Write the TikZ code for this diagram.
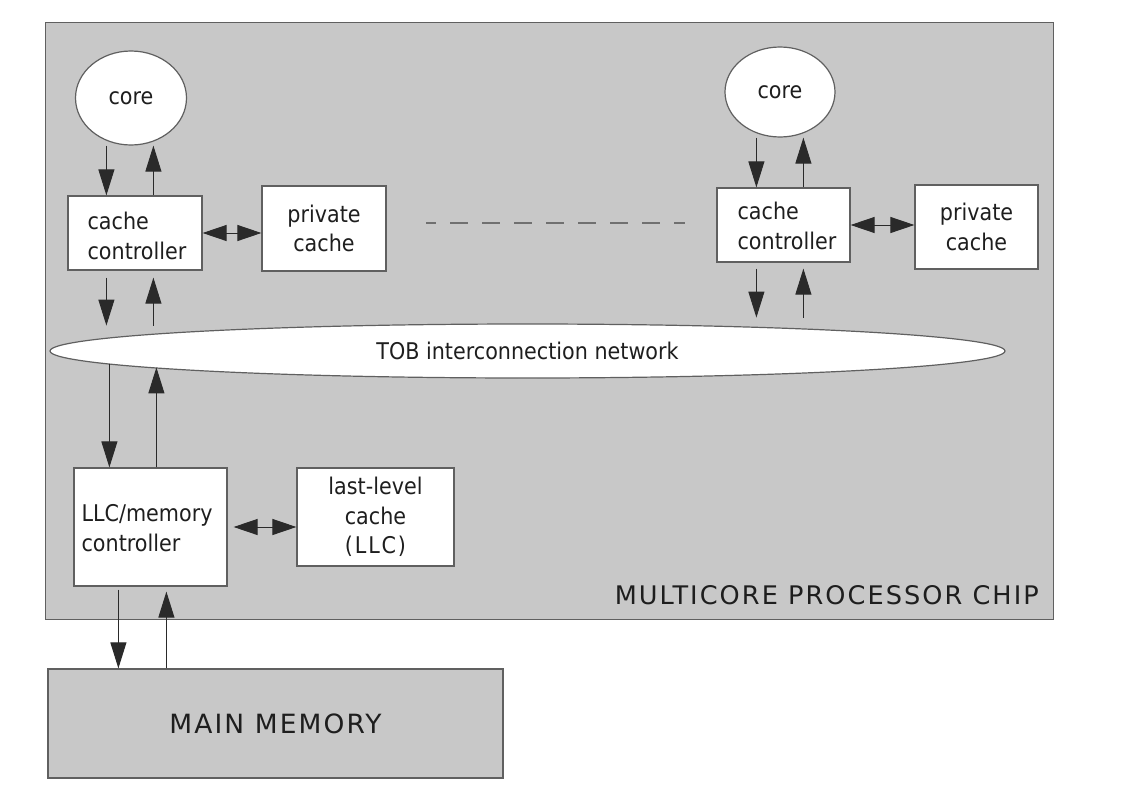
\documentclass[tikz,border=0pt]{standalone}
\usepackage{fontspec}
\setmainfont{DejaVu Sans}
\newfontfamily\cond[FakeStretch=0.9]{DejaVu Sans}
\newfontfamily\condsp[FakeStretch=0.9,LetterSpace=8]{DejaVu Sans}
\newfontfamily\spaced[LetterSpace=8]{DejaVu Sans}
\usetikzlibrary{arrows.meta,shapes.geometric,calc}
\definecolor{chipgray}{HTML}{C8C8C8}
\definecolor{linegray}{HTML}{2A2A2A}
\definecolor{boxedge}{HTML}{606060}
\definecolor{txt}{HTML}{1E1E1E}
\definecolor{dashgray}{HTML}{707070}
\begin{document}
\begin{tikzpicture}[x=1pt,y=-1pt,
  box/.style={draw=boxedge, fill=white, line width=1.2pt, inner sep=0pt, rectangle},
  oval/.style={draw=boxedge, fill=white, line width=1.2pt, ellipse, inner sep=0pt},
  lbl/.style={font=\cond\fontsize{23}{29.5}\selectfont, text=txt},
  arr/.style={draw=linegray, line width=1pt, -{Triangle[length=26pt,width=16pt]}},
  darr/.style={draw=linegray, line width=1pt, {Triangle[length=24pt,width=16pt]}-{Triangle[length=24pt,width=16pt]}},
  dline/.style={draw=dashgray, line width=1.6pt, dash pattern=on 18pt off 14pt, dash phase=8pt},
]
\useasboundingbox (0,0) rectangle (1130,790);
% chip
\node[draw=boxedge, fill=chipgray, line width=1.2pt, minimum width=1008pt, minimum height=597pt, inner sep=0pt, anchor=north west] (chip) at (45,22) {};
\node[font=\spaced\fontsize{25.6}{30}\selectfont, text=txt, anchor=base east, inner sep=0pt] (chiplbl) at (1039,604) {MULTICORE PROCESSOR CHIP};
% left column
\node[oval, lbl, minimum width=111pt, minimum height=94pt] (core1) at (131,98) {core};
\node[box, minimum width=134pt, minimum height=74pt,
  label={[lbl, anchor=west, align=left, inner sep=0pt, xshift=20pt, yshift=-3pt]west:cache\\controller}] (cc1) at (135,233) {};
\node[box, lbl, align=center, minimum width=124pt, minimum height=85pt] (pc1) at (324,228.5) {private\\cache};
% right column
\node[oval, lbl, minimum width=110pt, minimum height=90pt] (core2) at (780,92) {core};
\node[box, minimum width=133pt, minimum height=74pt,
  label={[lbl, anchor=west, align=left, inner sep=0pt, xshift=21pt, yshift=-1pt]west:cache\\controller}] (cc2) at (783.5,225) {};
\node[box, lbl, align=center, minimum width=123pt, minimum height=84pt] (pc2) at (976.5,227) {private\\cache};
% dashed
\coordinate (d1) at (426,223);
\coordinate (d2) at (685,223);
\draw[dline] (d1) -- (d2);
% TOB
\node[oval, lbl, minimum width=955pt, minimum height=54pt] (tob) at (527.5,351) {TOB interconnection network};
% LLC
\node[box, minimum width=153pt, minimum height=118pt,
  label={[lbl, anchor=west, align=left, inner sep=0pt, xshift=8pt, yshift=-1pt]west:LLC/memory\\controller}] (llc) at (150.5,527) {};
\node[box, lbl, align=center, minimum width=157pt, minimum height=98pt] (lastc) at (375.5,517) {last-level\\cache\\{\condsp(LLC)}};
% main memory
\node[draw=boxedge, fill=chipgray, line width=1.2pt, minimum width=455pt, minimum height=109pt, inner sep=0pt, font=\spaced\fontsize{26.5}{30}\selectfont, text=txt] (mm) at (275.5,723.5) {MAIN MEMORY};
% arrows core1 <-> cc1
\draw[arr] ([xshift=39pt]cc1.north west |- core1.south) -- ([xshift=39pt]cc1.north west);
\draw[arr] ([xshift=86pt]cc1.north west) -- ([xshift=86pt]cc1.north west |- core1.south);
\draw[darr] (cc1.east) -- (cc1.east -| pc1.west);
\draw[arr] ($(cc1.south west)+(39,7)$) -- ($(cc1.south west)+(39,55)$);
\draw[arr] ($(cc1.south west)+(86,55)$) -- ($(cc1.south west)+(86,7)$);
% arrows core2 <-> cc2
\draw[arr] ([xshift=40pt]cc2.north west |- core2.south) -- ([xshift=40pt]cc2.north west);
\draw[arr] ([xshift=87pt]cc2.north west) -- ([xshift=87pt]cc2.north west |- core2.south);
\draw[darr] (cc2.east) -- (cc2.east -| pc2.west);
\draw[arr] ($(cc2.south west)+(40,6)$) -- ($(cc2.south west)+(40,55)$);
\draw[arr] ($(cc2.south west)+(87,55)$) -- ($(cc2.south west)+(87,6)$);
% tob <-> llc
\draw[arr] ($(llc.north west)+(36,-103)$) -- ([xshift=36pt]llc.north west);
\draw[arr] ([xshift=83pt]llc.north west) -- ($(llc.north west)+(83,-100)$);
\draw[darr] ([xshift=6pt]llc.east) -- (llc.east -| lastc.west);
% llc <-> mm
\draw[arr] ($(llc.south west)+(45,3)$) -- ([xshift=71pt]mm.north west);
\draw[arr] ([xshift=119pt]mm.north west) -- ($(llc.south west)+(93,5)$);
\end{tikzpicture}
\end{document}
